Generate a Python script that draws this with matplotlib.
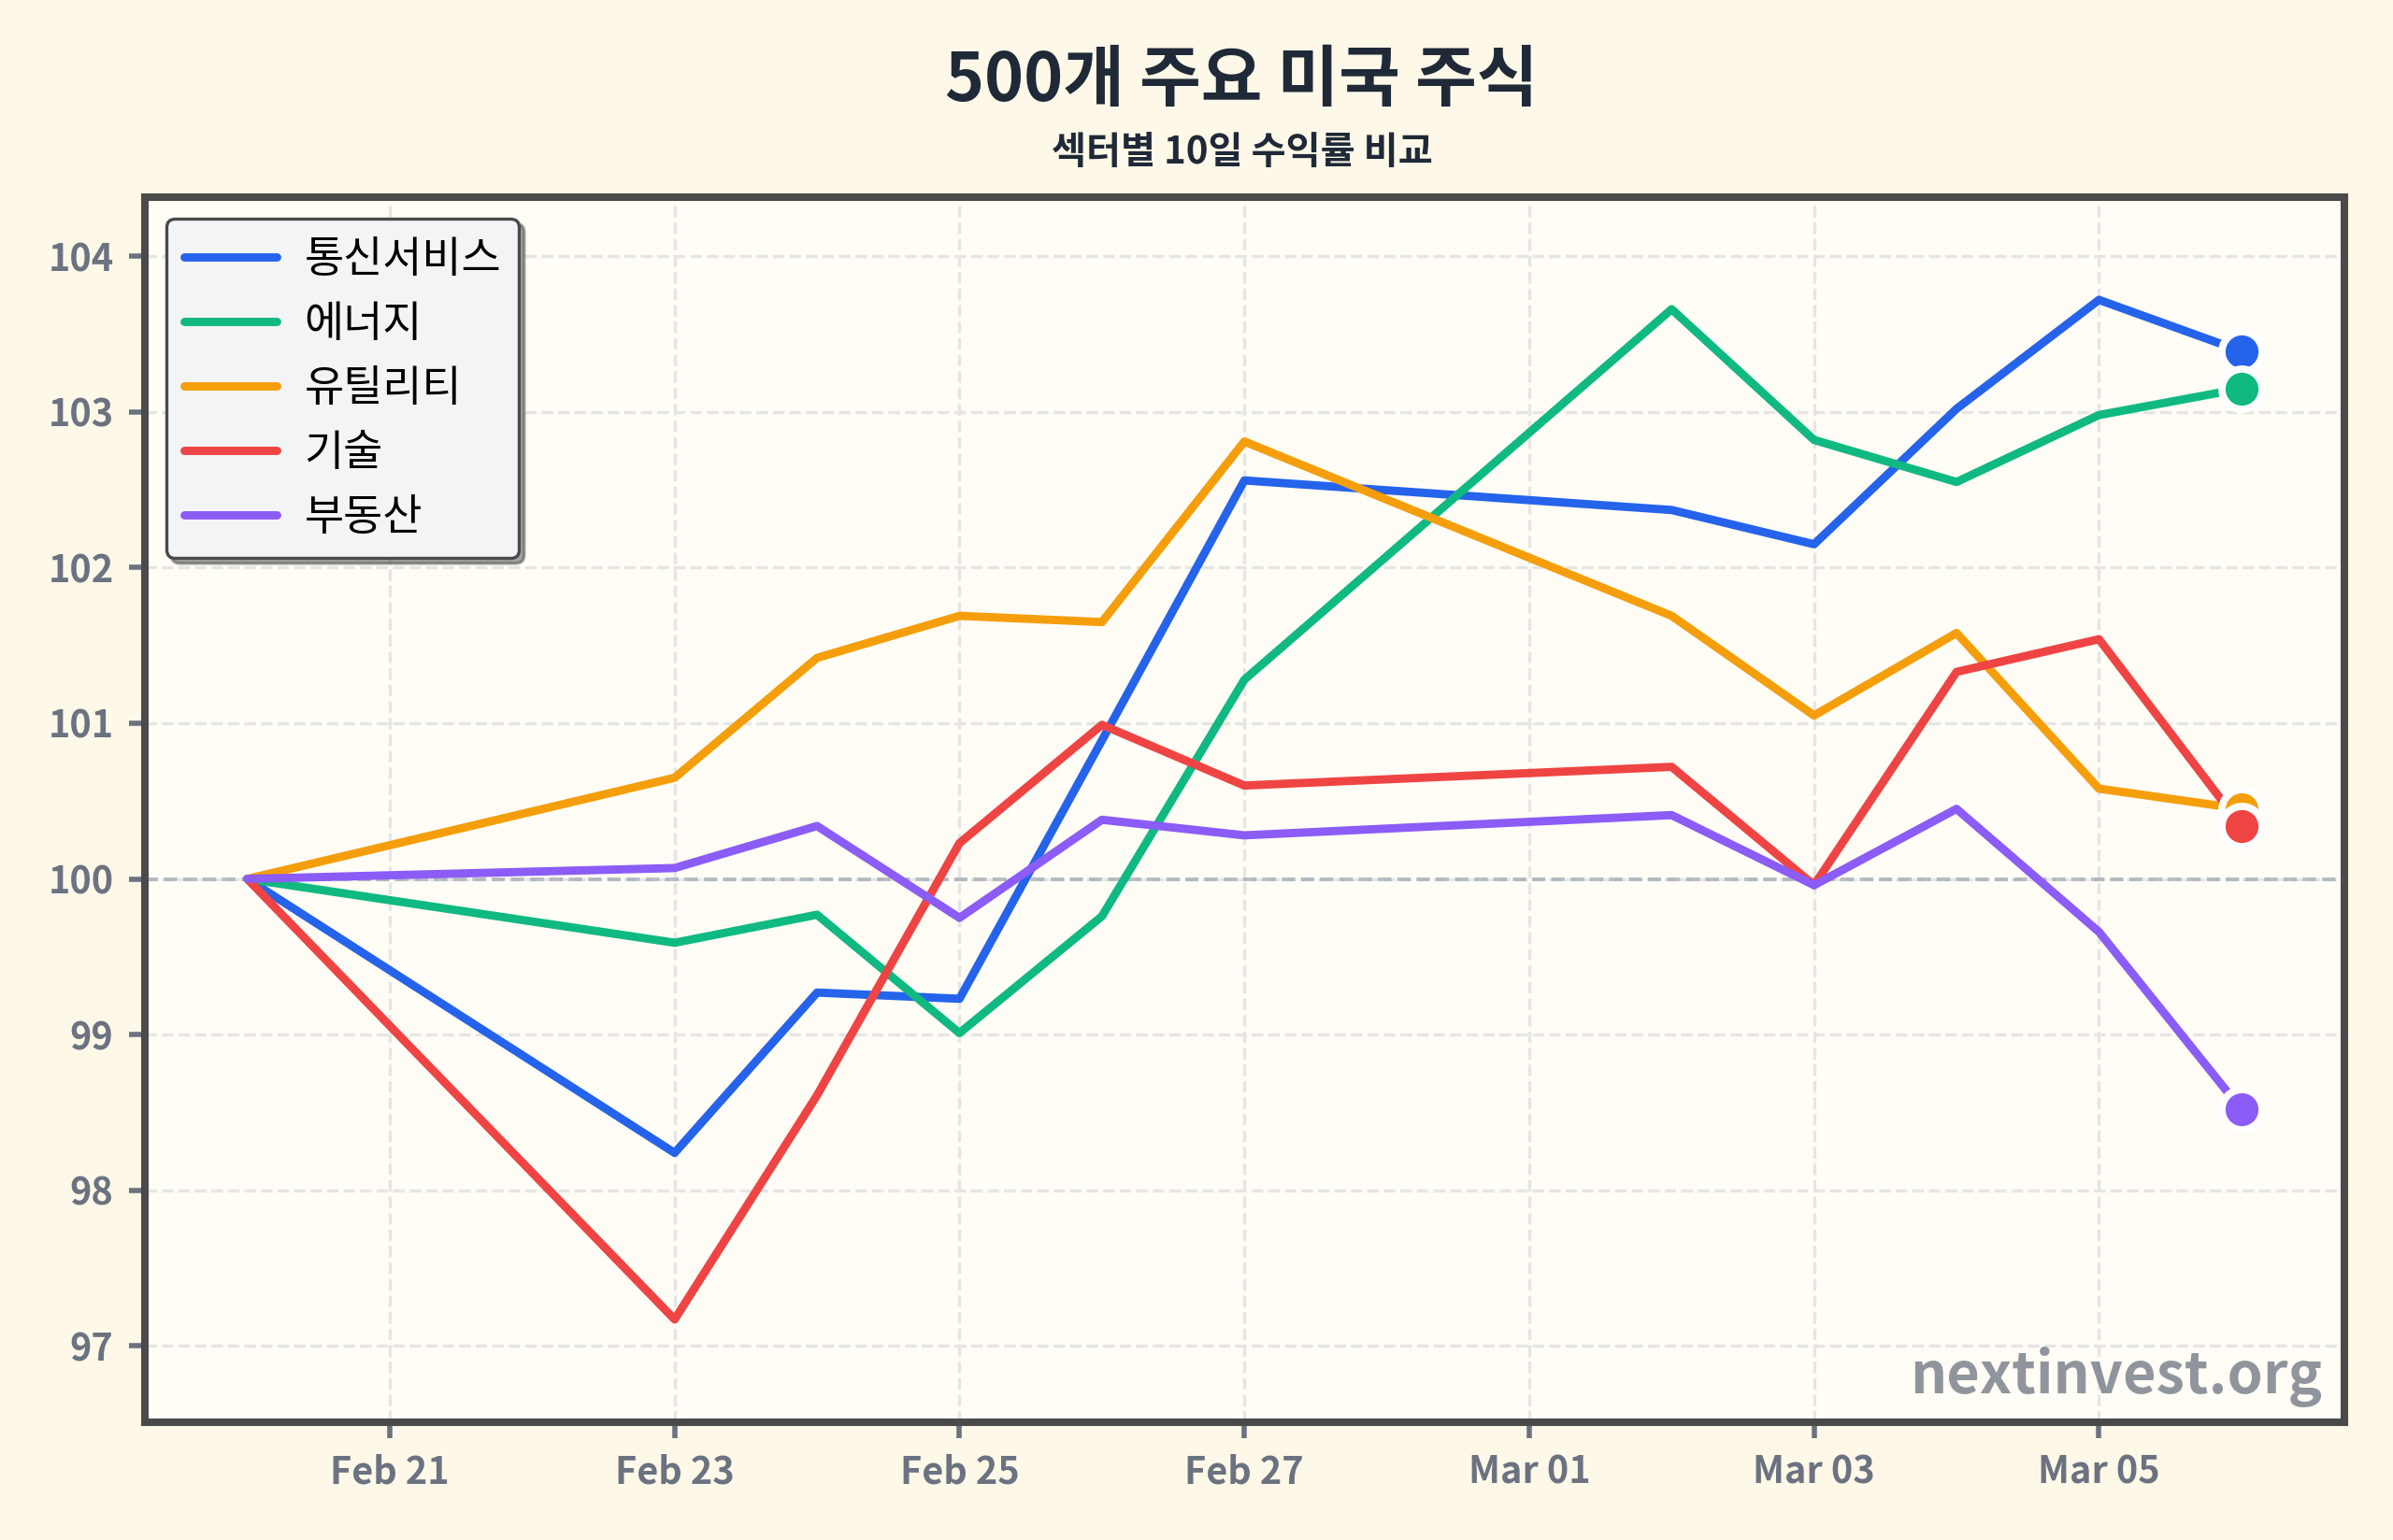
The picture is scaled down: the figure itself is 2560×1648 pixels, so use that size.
import datetime as dt
import matplotlib
matplotlib.use("Agg")
import matplotlib.pyplot as plt
import matplotlib.dates as mdates

plt.rcParams['font.family'] = ['Noto Sans CJK KR', 'DejaVu Sans']

dates = ["2026-02-20", "2026-02-23", "2026-02-24", "2026-02-25", "2026-02-26", "2026-02-27",
         "2026-03-02", "2026-03-03", "2026-03-04", "2026-03-05", "2026-03-06"]
sectors = ["통신서비스", "에너지", "유틸리티", "기술", "부동산"]
telecom = [100, 98.24, 99.27, 99.23, 100.89, 102.56, 102.37, 102.15, 103.02, 103.72, 103.39]
energy = [100, 99.59, 99.77, 99.01, 99.76, 101.28, 103.66, 102.82, 102.55, 102.98, 103.15]
utilities = [100, 100.65, 101.42, 101.69, 101.65, 102.81, 101.69, 101.05, 101.58, 100.58, 100.45]
tech = [100, 97.17, 98.61, 100.23, 100.99, 100.60, 100.72, 99.96, 101.33, 101.54, 100.34]
realestate = [100, 100.07, 100.34, 99.75, 100.38, 100.28, 100.41, 99.96, 100.45, 99.66, 98.52]
series = [telecom, energy, utilities, tech, realestate]
colors = ["#2563eb", "#10b981", "#f59e0b", "#ef4444", "#8b5cf6"]

x = [dt.datetime.strptime(d, "%Y-%m-%d") for d in dates]

fig = plt.figure(figsize=(12.8, 8.24), dpi=200, facecolor="#fef8e8")
ax = fig.add_axes([0.0605, 0.0765, 0.919, 0.7955])
ax.set_facecolor("#fffdf5")

for name, vals, c in zip(sectors, series, colors):
    ax.plot(x, vals, color=c, lw=3.2, label=name, solid_capstyle="round", zorder=3)
for vals, c in zip(series, colors):
    ax.plot(x[-1], vals[-1], "o", color=c, markersize=15.5, mec="white", mew=2.8, zorder=4)

ax.axhline(100, color="#9ca3af", lw=1.4, ls="--", alpha=0.7, zorder=2)
ax.grid(True, color="#e5e5e5", ls="--", lw=1.2, zorder=1)
ax.set_axisbelow(True)

ax.set_ylim(96.51, 104.38)
ax.set_xlim(x[0] - dt.timedelta(days=0.72), x[-1] + dt.timedelta(days=0.72))
ax.xaxis.set_major_locator(mdates.DayLocator(bymonthday=[1, 3, 5, 21, 23, 25, 27]))
ax.xaxis.set_major_formatter(mdates.DateFormatter("%b %d"))
ax.set_yticks([97, 98, 99, 100, 101, 102, 103, 104])

for s in ax.spines.values():
    s.set_color("#4a4a4a")
    s.set_linewidth(2.9)
ax.tick_params(colors="#6b7280", width=2, length=6, labelsize=14.3, pad=6)
for lab in ax.get_xticklabels() + ax.get_yticklabels():
    lab.set_fontweight("bold")

leg = ax.legend(loc="upper left", fontsize=16.5, frameon=True, shadow=True, fancybox=True,
                handlelength=2.15, borderpad=0.42, labelspacing=0.45, handletextpad=0.65,
                borderaxespad=0.5)
leg.get_frame().set_facecolor("#f3f4f6")
leg.get_frame().set_edgecolor("#4a4a4a")
leg.get_frame().set_linewidth(1.2)
leg.get_frame().set_alpha(1)

ax.text(0.99, 0.012, "nextinvest.org", transform=ax.transAxes, ha="right", va="bottom",
        fontsize=22, fontweight="bold", color="#6b7280", alpha=0.75)

fig.text(0.519, 0.947, "500개 주요 미국 주식", ha="center", va="center",
         fontsize=25.7, fontweight="bold", color="#1f2937")
fig.text(0.519, 0.901, "섹터별 10일 수익률 비교", ha="center", va="center",
         fontsize=14.5, fontweight="bold", color="#1f2937")

fig.savefig("out.png", dpi=200, facecolor=fig.get_facecolor())
